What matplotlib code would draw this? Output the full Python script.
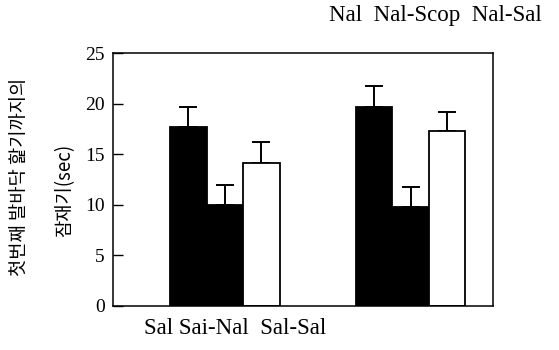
import numpy as np
import matplotlib

matplotlib.use("Agg")
import matplotlib.pyplot as plt

# values (latency in sec)
group_labels = ["Sal", "Nal"]
nal_group = [19.7, 9.75, 17.3]
sal_group = [17.7, 10.0, 14.1]
nal_err = [2.0, 2.0, 1.9]
sal_err = [2.0, 1.95, 2.1]
bar_colors = ["black", "black", "white"]
yticks = [0, 5, 10, 15, 20, 25]

top_text = "Nal  Nal-Scop  Nal-Sal"
bottom_text = "Sal Sai-Nal  Sal-Sal"
ylabel_1 = "첫번째 발바닥 핥기까지의"
ylabel_2 = "잠재기(sec)"

serif = ["Liberation Serif", "DejaVu Serif"]
kr = ["Noto Sans CJK KR", "DejaVu Sans"]

fig = plt.figure(figsize=(5.59, 3.5), dpi=100)
ax = fig.add_axes([113 / 559, 1 - 306 / 350, 380 / 559, 253 / 350])

centers = [2.95, 7.84]
offsets = [-0.97, 0.0, 0.95]
width = 0.97

for c, vals, errs in zip(centers, [sal_group, nal_group], [sal_err, nal_err]):
    xs = [c + o for o in offsets]
    ax.bar(xs, vals, width=width, color=bar_colors, edgecolor="black",
           linewidth=1.3, zorder=2)
    ax.errorbar(xs, vals, yerr=[np.zeros(3), errs], fmt="none", ecolor="black",
                elinewidth=1.4, capsize=6.5, capthick=1.4, zorder=1)

ax.set_xlim(0, 10)
ax.set_ylim(0, 24.7)
ax.set_xticks([])
ax.set_yticks(yticks)
ax.set_yticklabels([str(t) for t in yticks], family=serif, fontsize=14)
ax.tick_params(axis="y", direction="in", length=7, width=1, pad=6)
for s in ax.spines.values():
    s.set_linewidth(1.1)

fig.text(435 / 559, 1 - 15 / 350, top_text, family=serif, fontsize=16.5,
         ha="center", va="center")
fig.text(235 / 559, 1 - 328 / 350, bottom_text, family=serif, fontsize=16.5,
         ha="center", va="center")
fig.text(20 / 559, 1 - 177 / 350, ylabel_1, family=kr, fontsize=13.5,
         rotation=90, ha="center", va="center")
fig.text(65 / 559, 1 - 190 / 350, ylabel_2, family=kr, fontsize=13.5,
         rotation=90, ha="center", va="center")

fig.savefig("out.png", dpi=100)
